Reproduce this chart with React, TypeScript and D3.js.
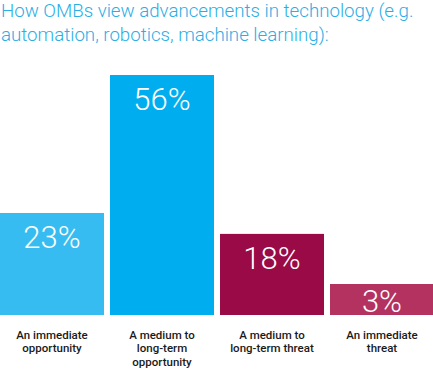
import { useEffect, useRef } from 'react';
import * as d3 from 'd3';

const categories = [
    ['An immediate', 'opportunity'],
    ['A medium to', 'long-term', 'opportunity'],
    ['A medium to', 'long-term threat'],
    ['An immediate', 'threat'],
];
const values = [23, 56, 18, 3];
const barColors = ['#36bcf0', '#00aeef', '#990a46', '#b3325f'];
const titleLines = [
    'How OMBs view advancements in technology (e.g.',
    'automation, robotics, machine learning):',
];

const App: React.FC = () => {
    const ref = useRef<SVGSVGElement | null>(null);

    useEffect(() => {
        const width = 433;
        const height = 369;
        const barBottom = 315;
        const barTopMax = 75;

        const svg = d3.select(ref.current)
            .attr('width', width)
            .attr('height', height);
        svg.selectAll('*').remove();

        // title
        svg.append('g')
            .selectAll('text')
            .data(titleLines)
            .join('text')
            .attr('x', 1)
            .attr('y', (d, i) => 17 + i * 23.5)
            .attr('font-family', 'Roboto')
            .attr('font-weight', 300)
            .attr('font-size', 18.7)
            .attr('fill', '#2aaee6')
            .text(d => d);

        const idx = values.map((d, i) => i);
        const x = d3.scaleBand<number>()
            .domain(idx)
            .range([0, 434])
            .paddingInner(0.0545)
            .paddingOuter(0);

        // domain starts slightly below zero to match the original drawing
        const y = d3.scaleLinear()
            .domain([-1.4, d3.max(values) as number])
            .range([barBottom, barTopMax]);

        const minBar = 31; // tiny bars keep room for their label
        const top = (v: number) => Math.min(y(v), barBottom - minBar);

        const bars = svg.append('g');
        bars.selectAll('rect')
            .data(values)
            .join('rect')
            .attr('x', (d, i) => x(i) as number)
            .attr('y', d => top(d))
            .attr('width', x.bandwidth())
            .attr('height', d => barBottom - top(d))
            .attr('fill', (d, i) => barColors[i]);

        bars.selectAll('text')
            .data(values)
            .join('text')
            .attr('x', (d, i) => (x(i) as number) + x.bandwidth() / 2)
            .attr('y', d => Math.min(top(d) + 35, barBottom - 3))
            .attr('text-anchor', 'middle')
            .attr('font-family', 'Roboto')
            .attr('font-weight', 300)
            .attr('font-size', 31)
            .attr('fill', '#fff')
            .text(d => `${d}%`);

        // category labels
        const labels = svg.append('g')
            .selectAll('text')
            .data(categories)
            .join('text')
            .attr('x', (d, i) => (x(i) as number) + x.bandwidth() / 2)
            .attr('y', 338.5)
            .attr('text-anchor', 'middle')
            .attr('font-family', 'Roboto')
            .attr('font-weight', 500)
            .attr('font-size', 11.5)
            .attr('fill', '#1a1a1a');

        labels.selectAll('tspan')
            .data(d => d)
            .join('tspan')
            .attr('x', function () {
                return (this.parentNode as SVGTextElement).getAttribute('x');
            })
            .attr('dy', (d, i) => (i === 0 ? 0 : 13.5))
            .text(d => d);
    }, []);

    return (
        <svg ref={ref} style={{ position: 'absolute', left: 0, top: 0 }}></svg>
    );
};

export default App;
